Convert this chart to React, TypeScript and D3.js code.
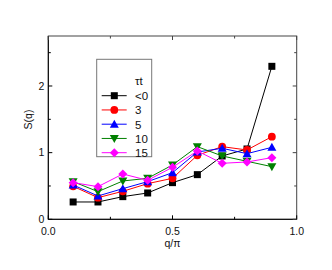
import React from "react";
import * as d3 from "d3";

const qValues = [0.1, 0.2, 0.3, 0.4, 0.5, 0.6, 0.7, 0.8, 0.9];
const seriesLabels = ["<0", "3", "5", "10", "15"];
const sNeg = [0.26, 0.26, 0.34, 0.395, 0.55, 0.67, 0.95, 1.055, 2.295];
const s3 = [0.495, 0.325, 0.42, 0.535, 0.615, 0.96, 1.09, 1.04, 1.24];
const s5 = [0.515, 0.35, 0.46, 0.565, 0.7, 1.01, 1.065, 0.985, 1.08];
const s10 = [0.565, 0.415, 0.575, 0.615, 0.815, 1.09, 0.95, 0.87, 0.79];
const s15 = [0.55, 0.49, 0.68, 0.585, 0.78, 1.025, 0.84, 0.86, 0.925];
const xTicks = [0, 0.5, 1.0];
const xMinor = [0.25, 0.75];
const yTicks = [0, 1, 2];
const yMinor = [0.5, 1.5, 2.5];

const colors = ["#000000", "#ff0000", "#0000ff", "#008000", "#ff00ff"];
const shapes = ["square", "circle", "triangleUp", "triangleDown", "diamond"];
const allSeries = [sNeg, s3, s5, s10, s15];

const L = 48.3, R = 296.7, T = 36, B = 219.3;
const x = d3.scaleLinear().domain([0, 1]).range([L, R]);
const y = d3.scaleLinear().domain([0, 2.75]).range([B, T]);

function Marker({ shape, cx, cy, color }: { shape: string; cx: number; cy: number; color: string }) {
  if (shape === "square") return <rect x={cx - 3.5} y={cy - 3.5} width={7} height={7} fill={color} />;
  if (shape === "circle") return <circle cx={cx} cy={cy} r={3.9} fill={color} />;
  if (shape === "triangleUp")
    return <path d={`M${cx},${cy - 4.5}L${cx + 4.5},${cy + 3.5}L${cx - 4.5},${cy + 3.5}Z`} fill={color} />;
  if (shape === "triangleDown")
    return <path d={`M${cx},${cy + 4.5}L${cx + 4.5},${cy - 3.5}L${cx - 4.5},${cy - 3.5}Z`} fill={color} />;
  return <path d={`M${cx},${cy - 4.5}L${cx + 4.5},${cy}L${cx},${cy + 4.5}L${cx - 4.5},${cy}Z`} fill={color} />;
}

export default function App() {
  const line = d3
    .line<number>()
    .x((_, i) => x(qValues[i]))
    .y((d) => y(d));
  const font = "Liberation Sans, Arial, sans-serif";
  const legX0 = 101.7, legX1 = 126.7, legM = 114.3, legText = 135;
  const legY0 = 95.7, legDy = 14.25;
  return (
    <svg width={332} height={270} style={{ position: "absolute", left: 0, top: 0 }}>
      <rect x={0} y={0} width={332} height={270} fill="#fff" />
      {/* frame */}
      <rect x={L} y={T} width={R - L} height={B - T} fill="none" stroke="#444" strokeWidth={1} />
      <line x1={L} y1={T} x2={L} y2={B} stroke="#000" />
      <line x1={L} y1={B} x2={R} y2={B} stroke="#000" />
      {/* ticks */}
      {xTicks.map((t) => (
        <g key={"xt" + t}>
          <line x1={x(t)} x2={x(t)} y1={B} y2={B - 4} stroke="#000" />
          <line x1={x(t)} x2={x(t)} y1={T} y2={T + 4} stroke="#444" />
          <text x={x(t)} y={234.5} textAnchor="middle" fontFamily={font} fontSize={10.5} fill="#111">
            {t.toFixed(1)}
          </text>
        </g>
      ))}
      {xMinor.map((t) => (
        <g key={"xm" + t}>
          <line x1={x(t)} x2={x(t)} y1={B} y2={B - 2.5} stroke="#000" />
          <line x1={x(t)} x2={x(t)} y1={T} y2={T + 2.5} stroke="#444" />
        </g>
      ))}
      {yTicks.map((t) => (
        <g key={"yt" + t}>
          <line x1={L} x2={L + 4} y1={y(t)} y2={y(t)} stroke="#000" />
          <line x1={R} x2={R - 4} y1={y(t)} y2={y(t)} stroke="#444" />
          <text x={L - 4} y={y(t) + 3.8} textAnchor="end" fontFamily={font} fontSize={10.5} fill="#111">
            {t}
          </text>
        </g>
      ))}
      {yMinor.map((t) => (
        <g key={"ym" + t}>
          <line x1={L} x2={L + 2.5} y1={y(t)} y2={y(t)} stroke="#000" />
          <line x1={R} x2={R - 2.5} y1={y(t)} y2={y(t)} stroke="#444" />
        </g>
      ))}
      <text x={(L + R) / 2} y={246.5} textAnchor="middle" fontFamily={font} fontSize={10.5} fill="#111">
        q/π
      </text>
      <text
        transform={`translate(31.5,119.5) rotate(-90)`}
        textAnchor="middle"
        fontFamily={font}
        fontSize={10.5}
        fill="#111"
      >
        S(q)
      </text>
      {/* data */}
      {allSeries.map((s, si) => (
        <g key={"s" + si}>
          <path d={line(s) || ""} fill="none" stroke={colors[si]} strokeWidth={1} />
          {s.map((v, i) => (
            <Marker key={i} shape={shapes[si]} cx={x(qValues[i])} cy={y(v)} color={colors[si]} />
          ))}
        </g>
      ))}
      {/* legend */}
      <rect x={96.7} y={59.3} width={55} height={97.4} fill="#fff" stroke="#777" strokeWidth={1} />
      <text x={legText} y={legY0 - legDy + 4} fontFamily={font} fontSize={11.5} fill="#111">
        τt
      </text>
      {seriesLabels.map((lab, i) => (
        <g key={"l" + i}>
          <line x1={legX0} x2={legX1} y1={legY0 + i * legDy} y2={legY0 + i * legDy} stroke={colors[i]} />
          <Marker shape={shapes[i]} cx={legM} cy={legY0 + i * legDy} color={colors[i]} />
          <text x={legText} y={legY0 + i * legDy + 4.5} fontFamily={font} fontSize={11.5} fill="#111">
            {lab}
          </text>
        </g>
      ))}
    </svg>
  );
}
